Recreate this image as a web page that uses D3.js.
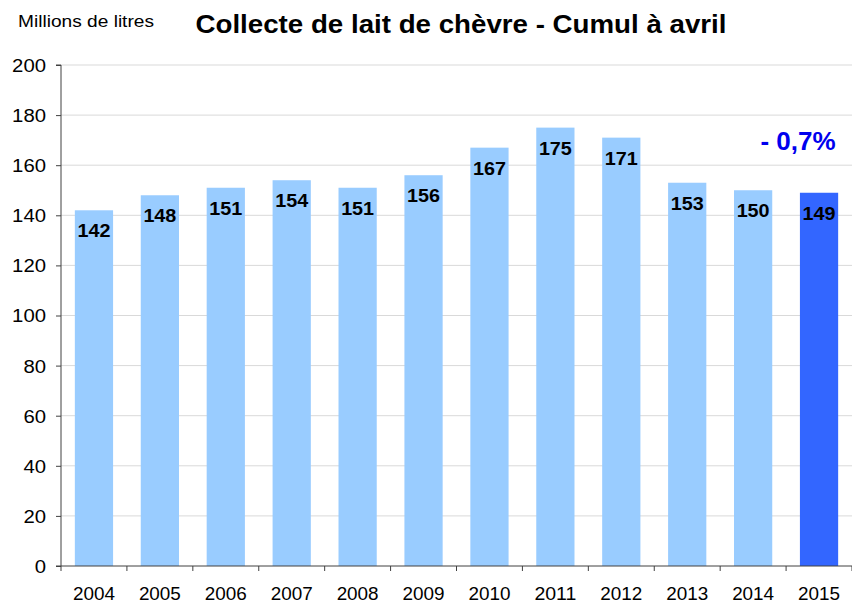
<!DOCTYPE html>
<html>
<head>
<meta charset="utf-8">
<title>Collecte de lait de chèvre</title>
<script src="https://cdn.jsdelivr.net/npm/d3@7"></script>
<style>
  body { margin: 0; background: #fff; }
  text { font-family: "Liberation Sans", Arial, sans-serif; }
</style>
</head>
<body>
<div id="chart"></div>
<script>
const years = ['2004','2005','2006','2007','2008','2009','2010','2011','2012','2013','2014','2015'];
const collecte = [142, 148, 151, 154, 151, 156, 167, 175, 171, 153, 150, 149];
const yTicks = [0, 20, 40, 60, 80, 100, 120, 140, 160, 180, 200];
const variation = '- 0,7%';

const width = 852, height = 605;
const margin = { left: 61, right: 0, top: 65, bottom: 39 };
const innerW = width - margin.left - margin.right;
const innerH = height - margin.top - margin.bottom;

const svg = d3.select('#chart').append('svg')
  .attr('width', width)
  .attr('height', height);

const g = svg.append('g').attr('transform', `translate(${margin.left},${margin.top})`);

const x = d3.scaleBand().domain(years).range([0, innerW]).paddingInner(0.42).paddingOuter(0.21);
const y = d3.scaleLinear().domain([0, 200]).range([innerH, 0]);

// gridlines
g.selectAll('.grid').data(yTicks.filter(d => d > 0)).enter().append('line')
  .attr('x1', 0).attr('x2', innerW)
  .attr('y1', d => y(d)).attr('y2', d => y(d))
  .attr('stroke', '#d9d9d9').attr('stroke-width', 1);

// bars
g.selectAll('.bar').data(collecte).enter().append('rect')
  .attr('x', (d, i) => x(years[i]))
  .attr('y', d => y(d))
  .attr('width', x.bandwidth())
  .attr('height', d => innerH - y(d))
  .attr('fill', (d, i) => i === years.length - 1 ? '#3366ff' : '#99ccff');

// value labels
g.selectAll('.val').data(collecte).enter().append('text')
  .attr('x', (d, i) => x(years[i]) + x.bandwidth() / 2)
  .attr('y', d => y(d) + 27)
  .attr('text-anchor', 'middle')
  .attr('textLength', 33).attr('lengthAdjust', 'spacingAndGlyphs')
  .style('font-size', '19px').style('font-weight', 'bold')
  .attr('fill', '#000')
  .text(d => d);

// y axis
const yAxis = d3.axisLeft(y).tickValues(yTicks).tickSize(5).tickPadding(10);
const yG = g.append('g').call(yAxis);
yG.select('.domain').attr('stroke', '#404040').attr('d', `M-5,0H0V${innerH}H-5`);
yG.selectAll('.tick line').attr('stroke', '#404040');
yG.selectAll('.tick text').style('font-size', '18px').attr('fill', '#000').attr('dy', '0.36em')
  .attr('textLength', d => String(d).length * 11.3).attr('lengthAdjust', 'spacingAndGlyphs');

// x axis
const xAxis = d3.axisBottom(x).tickSize(0).tickPadding(21);
const xG = g.append('g').attr('transform', `translate(0,${innerH})`).call(xAxis);
xG.select('.domain').attr('stroke', '#404040').attr('d', `M0,0H${innerW}`);
xG.selectAll('.tick text').style('font-size', '18px').attr('fill', '#000')
  .attr('textLength', 42).attr('lengthAdjust', 'spacingAndGlyphs');
// category boundary ticks
g.append('g').selectAll('line').data(d3.range(years.length + 1)).enter().append('line')
  .attr('x1', i => i * x.step()).attr('x2', i => i * x.step())
  .attr('y1', innerH).attr('y2', innerH + 5)
  .attr('stroke', '#404040');

// titles
svg.append('text')
  .attr('x', 461).attr('y', 33)
  .attr('text-anchor', 'middle')
  .attr('textLength', 531).attr('lengthAdjust', 'spacingAndGlyphs')
  .style('font-size', '25px').style('font-weight', 'bold')
  .text('Collecte de lait de chèvre - Cumul à avril');

svg.append('text')
  .attr('x', 18).attr('y', 27)
  .attr('textLength', 136).attr('lengthAdjust', 'spacingAndGlyphs')
  .style('font-size', '16.5px')
  .text('Millions de litres');

// variation annotation
svg.append('text')
  .attr('x', 798).attr('y', 150)
  .attr('text-anchor', 'middle')
  .style('font-size', '26px').style('font-weight', 'bold')
  .attr('fill', '#0000ee')
  .text(variation);
</script>
</body>
</html>
